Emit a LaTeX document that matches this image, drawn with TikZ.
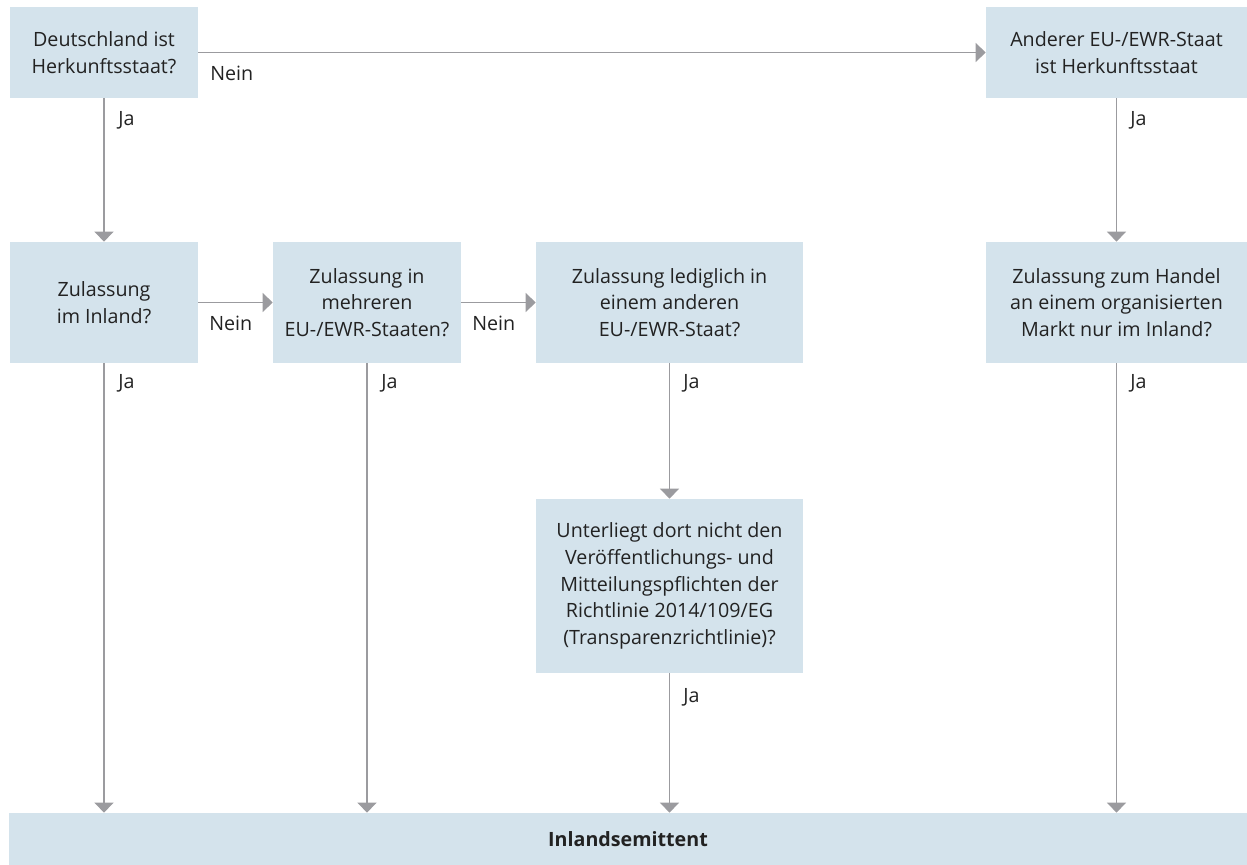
\documentclass[tikz,border=0pt]{standalone}
\usepackage{fontspec}
\setmainfont{Open Sans}
\usetikzlibrary{arrows.meta}
\definecolor{boxblue}{HTML}{D4E3EC}
\definecolor{linegray}{HTML}{9B9B9F}
\definecolor{txt}{HTML}{222222}
\tikzset{
  box/.style={fill=boxblue, text=txt, align=center, inner sep=2pt,
    font=\fontsize{11.2}{15.2}\selectfont},
  arr/.style={draw=linegray, line width=0.75pt,
    -{Triangle[width=0.38cm,length=0.2cm]}},
  lab/.style={text=txt, inner sep=0pt, anchor=west,
    font=\fontsize{11.2}{13}\selectfont}
}
\begin{document}
\begin{tikzpicture}[x=0.02cm,y=-0.02cm]
\useasboundingbox (0,0) rectangle (1247,865);
\node [box, minimum width=3.76cm, minimum height=1.82cm] (herkunft) at (104,52.5)
  {Deutschland ist\\Herkunftsstaat?};
\node [box, minimum width=5.22cm, minimum height=1.82cm] (anderer) at (1116.5,52.5)
  {Anderer EU-/EWR-Staat\\ist Herkunftsstaat};
\node [box, minimum width=3.76cm, minimum height=2.42cm] (inland) at (104,302.5)
  {Zulassung\\im Inland?};
\node [box, minimum width=3.76cm, minimum height=2.42cm] (mehrere) at (367,302.5)
  {Zulassung in\\mehreren\\EU-/EWR-Staaten?};
\node [box, minimum width=5.34cm, minimum height=2.42cm] (lediglich) at (669.5,302.5)
  {Zulassung lediglich in\\einem anderen\\EU-/EWR-Staat?};
\node [box, minimum width=5.22cm, minimum height=2.42cm] (handel) at (1116.5,302.5)
  {Zulassung zum Handel\\an einem organisierten\\Markt nur im Inland?};
\node [box, minimum width=5.34cm, minimum height=3.48cm] (pflicht) at (669.5,586)
  {Unterliegt dort nicht den\\Ver\"offentlichungs- und\\Mitteilungspflichten der\\Richtlinie 2014/109/EG\\(Transparenzrichtlinie)?};
\node [box, minimum width=24.76cm, minimum height=1.04cm] (emittent) at (628,839)
  {\textbf{Inlandsemittent}};

% Nein
\draw [arr] (herkunft) -- (anderer);
\draw [arr] (inland) -- (mehrere);
\draw [arr] (mehrere) -- (lediglich);
\node [lab] (n1) at (210,73) {Nein};
\node [lab] (n2) at (209,323) {Nein};
\node [lab] (n3) at (472,323) {Nein};

% Ja
\draw [arr] (herkunft) -- (inland);
\draw [arr] (anderer) -- (handel);
\draw [arr] (lediglich) -- (pflicht);
\foreach \a in {inland,mehrere,pflicht,handel}{
  \draw [arr] (\a.south) -- (\a.south |- emittent.north);
}
\foreach \x/\y/\n in {118/120/j1,1130/120/j2,118/383/j3,381/383/j4,683/383/j5,1130/383/j6,683/697/j7}{
  \node [lab] (\n) at (\x,\y) {Ja};
}
\end{tikzpicture}
\end{document}
